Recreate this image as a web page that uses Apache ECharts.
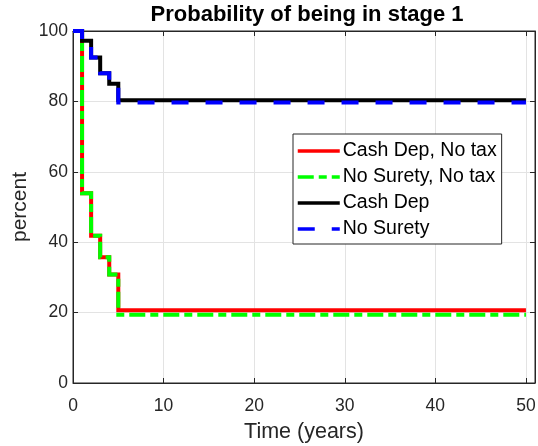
<!DOCTYPE html>
<html>
<head>
<meta charset="utf-8">
<script src="https://cdn.jsdelivr.net/npm/echarts@6/dist/echarts.min.js"></script>
<style>
  html, body { margin: 0; padding: 0; background: #fff; }
  #chart { width: 538px; height: 446px; }
</style>
</head>
<body>
<div id="chart"></div>
<script>
// Step times (years) at which the probabilities change
const years = [0, 1, 2, 3, 4, 5, 50];

// Probability (%) of remaining in stage 1
const cashDepNoTax   = [100, 53.9, 41.8, 35.7, 30.8, 20.7, 20.7];
const noSuretyNoTax  = [100, 53.9, 41.8, 35.7, 30.8, 19.4, 19.4];
const cashDep        = [100, 97.2, 92.5, 88.0, 85.0, 80.3, 80.3];
const noSurety       = [100, 97.2, 92.5, 88.0, 85.0, 79.7, 79.7];

const seriesNames = ['Cash Dep, No tax', 'No Surety, No tax', 'Cash Dep', 'No Surety'];

const xTicks = [0, 10, 20, 30, 40, 50];
const yTicks = [0, 20, 40, 60, 80, 100];

const FONT = '"Liberation Sans", Arial, Helvetica, sans-serif';
const INK = '#262626';

function pairs(values) {
  return years.map((t, i) => [t, values[i]]);
}

function stepSeries(name, values, color, dash) {
  return {
    name: name,
    type: 'line',
    step: 'end',
    data: pairs(values),
    symbol: 'none',
    showSymbol: false,
    animation: false,
    lineStyle: { color: color, width: 4, type: dash, cap: 'butt', join: 'miter' },
    itemStyle: { color: color },
    z: 3
  };
}

const chart = echarts.init(document.getElementById('chart'), null, { renderer: 'canvas' });

const gridLine = { show: true, lineStyle: { color: '#e3e3e3', width: 1 } };

chart.setOption({
  animation: false,
  backgroundColor: '#ffffff',
  title: {
    text: 'Probability of being in stage 1',
    left: 302,
    textAlign: 'center',
    top: -1,
    textStyle: { fontFamily: FONT, fontSize: 22, fontWeight: 'bold', color: '#000' }
  },
  grid: {
    left: 73, right: 3, top: 31, bottom: 63,
    outerBoundsMode: 'none',
    containLabel: false,
    show: true, borderColor: INK, borderWidth: 1, backgroundColor: '#fff'
  },
  legend: {
    orient: 'vertical',
    left: 293,
    top: 134,
    padding: [7, 5, 5, 3],
    itemWidth: 42,
    itemHeight: 16,
    itemGap: 6,
    backgroundColor: '#fff',
    borderColor: INK,
    borderWidth: 1,
    borderRadius: 0,
    data: seriesNames,
    textStyle: { fontFamily: FONT, fontSize: 19.5, lineHeight: 18, color: '#000', padding: [0, 0, 0, -2] },
    lineStyle: { width: 3.5 },
    itemStyle: { opacity: 0 }
  },
  xAxis: [{
    type: 'value',
    min: 0, max: 51, interval: 10,
    name: 'Time (years)',
    nameLocation: 'middle',
    nameGap: 38,
    nameMoveOverlap: false,
    nameTextStyle: { fontFamily: FONT, fontSize: 21.5, color: INK },
    axisLine: { show: true, onZero: false, lineStyle: { color: INK, width: 1 } },
    axisTick: { show: true, inside: true, length: 5, lineStyle: { color: INK } },
    axisLabel: {
      fontFamily: FONT, fontSize: 17.5, color: INK, margin: 14,
      showMaxLabel: false,
      formatter: v => (xTicks.includes(v) ? String(v) : '')
    },
    splitLine: gridLine
  }, {
    type: 'value', position: 'top',
    min: 0, max: 51, interval: 10,
    axisLine: { show: true, onZero: false, lineStyle: { color: INK, width: 1 } },
    axisTick: { show: true, inside: true, length: 5, lineStyle: { color: INK } },
    axisLabel: { show: false },
    splitLine: { show: false }
  }],
  yAxis: [{
    type: 'value',
    min: 0, max: 100, interval: 20,
    name: 'percent',
    nameLocation: 'middle',
    nameGap: 42,
    nameMoveOverlap: false,
    nameTextStyle: { fontFamily: FONT, fontSize: 21, color: INK },
    axisLine: { show: true, onZero: false, lineStyle: { color: INK, width: 1 } },
    axisTick: { show: true, inside: true, length: 5, lineStyle: { color: INK } },
    axisLabel: {
      fontFamily: FONT, fontSize: 17.5, color: INK, margin: 5,
      formatter: v => (yTicks.includes(v) ? String(v) : '')
    },
    splitLine: gridLine
  }, {
    type: 'value', position: 'right',
    min: 0, max: 100, interval: 20,
    axisLine: { show: true, onZero: false, lineStyle: { color: INK, width: 1 } },
    axisTick: { show: true, inside: true, length: 5, lineStyle: { color: INK } },
    axisLabel: { show: false },
    splitLine: { show: false }
  }],
  series: [
    stepSeries(seriesNames[0], cashDepNoTax, '#ff0000', 'solid'),
    stepSeries(seriesNames[1], noSuretyNoTax, '#00ff00', [16, 5, 8, 5]),
    stepSeries(seriesNames[2], cashDep, '#000000', 'solid'),
    stepSeries(seriesNames[3], noSurety, '#0000ff', [17, 17])
  ]
});
</script>
</body>
</html>
